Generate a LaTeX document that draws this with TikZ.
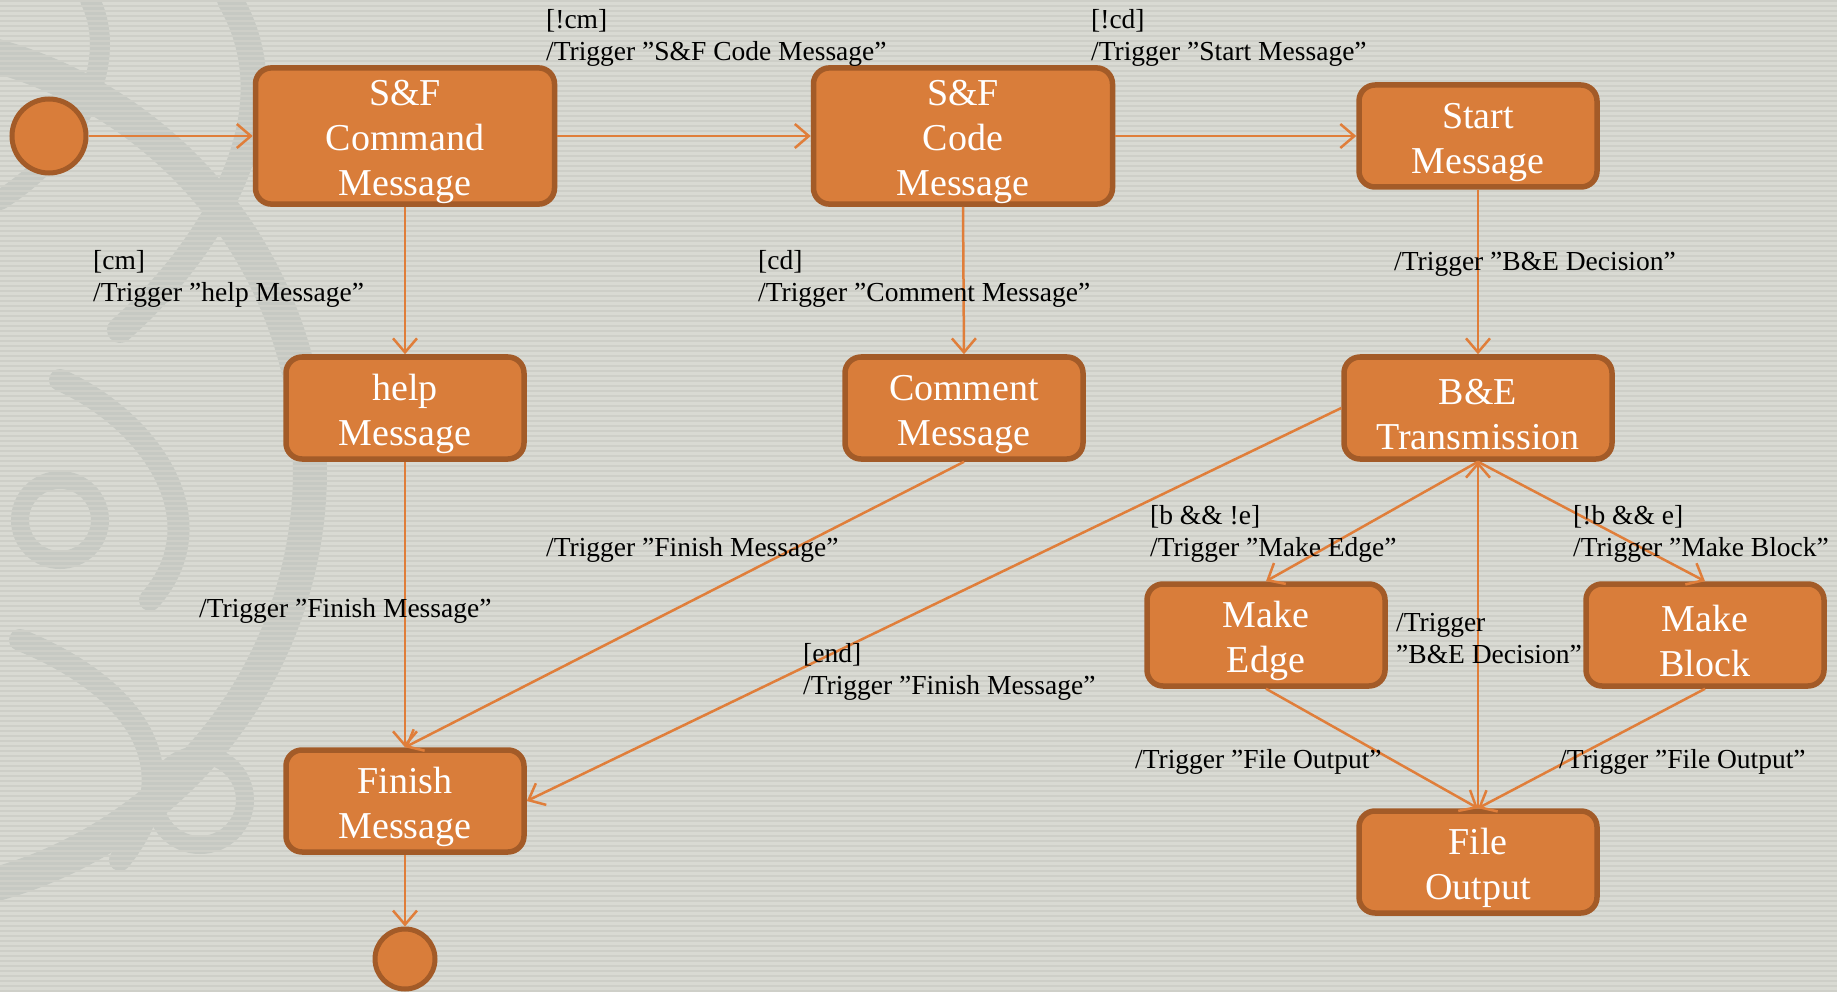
\documentclass[tikz,border=0pt]{standalone}
\usepackage{fontspec}
\setmainfont{Liberation Serif}
\usetikzlibrary{arrows.meta}
\definecolor{bg}{RGB}{217,218,211}
\definecolor{stripe}{RGB}{206,207,200}
\definecolor{orn}{RGB}{198,201,195}
\definecolor{boxfill}{RGB}{217,125,58}
\definecolor{boxline}{RGB}{163,91,40}
\definecolor{conn}{RGB}{224,126,58}
\newcommand{\topstrut}{\rule{0pt}{38pt}}
\begin{document}
\begin{tikzpicture}[x=1pt,y=-1pt,
  state/.style={rectangle, rounded corners=16pt, fill=boxfill, draw=boxline, line width=5.5pt, text=white, font=\fontsize{38}{45}\selectfont, align=center, inner sep=0pt, minimum width=238pt, minimum height=102pt},
  pseudo/.style={circle, fill=boxfill, draw=boxline, line width=5pt, inner sep=0pt},
  conn/.style={draw=conn, line width=2.5pt, -{Straight Barb[length=14pt,width=24pt]}},
  lbl/.style={anchor=north west, inner sep=0pt, align=left, font=\fontsize{27.5}{32}\selectfont, text=black}]
\useasboundingbox (0,0) rectangle (1837,992);
\begin{scope}
\clip (0,0) rectangle (1837,992);
\fill[bg] (0,0) rectangle (1837,992);
% faint ornament on the left
\draw[orn, line width=34pt] (-120,470) circle (430pt);
\draw[orn, line width=26pt, line cap=round] (230,0) .. controls (300,120) and (200,260) .. (120,330);
\draw[orn, line width=22pt, line cap=round] (60,380) .. controls (150,420) and (220,520) .. (150,600);
\draw[orn, line width=22pt, line cap=round] (20,640) .. controls (120,680) and (200,760) .. (120,860);
\draw[orn, line width=18pt] (60,520) circle (40pt);
\draw[orn, line width=18pt] (200,800) circle (45pt);
\draw[orn, line width=20pt, line cap=round] (0,200) .. controls (80,150) and (120,60) .. (90,0);
\foreach \yy in {0,5,...,990} \fill[stripe] (0,\yy) rectangle (1837,\yy+2);
\end{scope}

% states
\node[pseudo, minimum size=74pt] (init) at (49,136) {};
\node[state, minimum width=299pt, minimum height=132pt] (cmd) at (405,136) {\topstrut S\&F\\Command\\Message};
\node[state, minimum width=299pt, minimum height=132pt] (code) at (963,136) {\topstrut S\&F\\Code\\Message};
\node[state] (start) at (1478,136) {\topstrut Start\\Message};
\node[state] (help) at (405,408) {\topstrut help\\Message};
\node[state] (comment) at (964,408) {\topstrut Comment\\Message};
\node[state, minimum width=268pt] (be) at (1478,408) {\topstrut B\&E\\Transmission};
\node[state] (edge) at (1266,635) {\topstrut Make\\Edge};
\node[state] (block) at (1705,635) {\topstrut Make\\Block};
\node[state] (finish) at (405,801) {\topstrut Finish\\Message};
\node[state] (file) at (1478,862) {\topstrut File\\Output};
\node[pseudo, minimum size=60pt] (final) at (405,959) {};

% connectors
\draw[conn] (init.east) -- (cmd.west);
\draw[conn] (cmd.east) -- (code.west);
\draw[conn] (code.east) -- (start.west);
\draw[conn] (cmd.south) -- (help.north);
\draw[conn] (code.south) -- (comment.north);
\draw[conn] (start.south) -- (be.north);
\draw[conn] (help.south) -- (finish.north);
\draw[conn] (comment.south) -- (finish.north);
\draw[conn] (be.west) -- (finish.east);
\draw[conn] (be.south) -- (edge.north);
\draw[conn] (be.south) -- (block.north);
\draw[conn] (file.north) -- (be.south);
\draw[conn] (edge.south) -- (file.north);
\draw[conn] (block.south) -- (file.north);
\draw[conn] (finish.south) -- (final.north);

% labels
\node[lbl] (l1) at (546,9) {{}[!cm]\\/Trigger ”S\&F Code Message”};
\node[lbl] (l2) at (1091,9) {{}[!cd]\\/Trigger ”Start Message”};
\node[lbl] (l3) at (93,250) {{}[cm]\\/Trigger ”help Message”};
\node[lbl] (l4) at (758,250) {{}[cd]\\/Trigger ”Comment Message”};
\node[lbl] (l5) at (1394,252) {/Trigger ”B\&E Decision”};
\node[lbl] (l6) at (199,598) {/Trigger ”Finish Message”};
\node[lbl] (l7) at (546,537) {/Trigger ”Finish Message”};
\node[lbl] (l8) at (803,643) {{}[end]\\/Trigger ”Finish Message”};
\node[lbl] (l9) at (1150,505) {{}[b \&\& !e]\\/Trigger ”Make Edge”};
\node[lbl] (l10) at (1573,505) {{}[!b \&\& e]\\/Trigger ”Make Block”};
\node[lbl] (l11) at (1396,613) {/Trigger\\”B\&E Decision”};
\node[lbl] (l12) at (1135,749) {/Trigger ”File Output”};
\node[lbl] (l13) at (1559,749) {/Trigger ”File Output”};
\end{tikzpicture}
\end{document}
